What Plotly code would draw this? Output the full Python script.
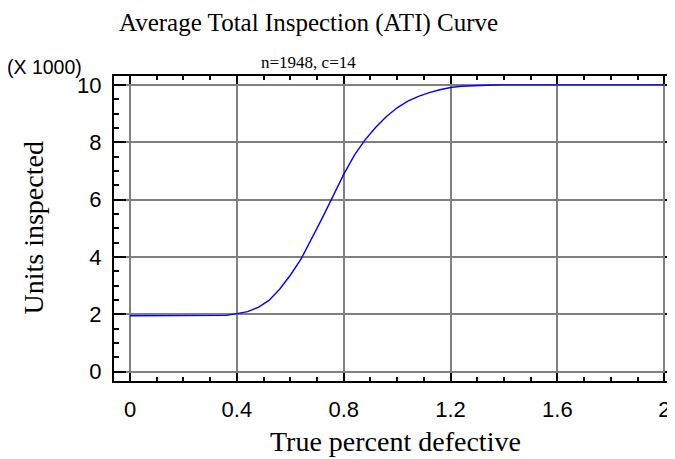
import plotly.graph_objects as go

# True percent defective
pct_defective = [0.00, 0.04, 0.08, 0.12, 0.16, 0.20, 0.24, 0.28, 0.32, 0.36,
                 0.40, 0.44, 0.48, 0.52, 0.56, 0.60, 0.64, 0.68, 0.72, 0.76,
                 0.80, 0.84, 0.88, 0.92, 0.96, 1.00, 1.04, 1.08, 1.12, 1.16,
                 1.20, 1.24, 1.28, 1.32, 1.36, 1.40, 1.44, 1.48, 1.52, 1.56,
                 1.60, 1.64, 1.68, 1.72, 1.76, 1.80, 1.84, 1.88, 1.92, 1.96, 2.00]
# Units inspected (X 1000)
units_inspected = [1.948, 1.948, 1.948, 1.948, 1.948, 1.948, 1.948, 1.949, 1.951, 1.96,
                   2.02, 2.09, 2.24, 2.48, 2.87, 3.36, 3.92, 4.62, 5.36, 6.12,
                   6.88, 7.55, 8.08, 8.52, 8.90, 9.20, 9.43, 9.60, 9.73, 9.83,
                   9.91, 9.95, 9.97, 9.99, 9.995, 10.0, 10.0, 10.0, 10.0, 10.0,
                   10.0, 10.0, 10.0, 10.0, 10.0, 10.0, 10.0, 10.0, 10.0, 10.0, 10.0]

x_ticks = [0, 0.4, 0.8, 1.2, 1.6, 2.0]
x_tick_labels = ["0", "0.4", "0.8", "1.2", "1.6", "2"]
y_ticks = [0, 2, 4, 6, 8, 10]
y_tick_labels = ["0", "2", "4", "6", "8", "10"]

title_text = "Average Total Inspection (ATI) Curve"
subtitle_text = "n=1948, c=14"
x_title = "True percent defective"
y_title = "Units inspected"
scale_text = "(X 1000)"

SANS = "Liberation Sans, Arial, sans-serif"
SERIF = "Liberation Serif, Times New Roman, serif"

fig = go.Figure()
fig.add_trace(go.Scatter(x=pct_defective, y=units_inspected, mode="lines",
                         line=dict(color="#0000FF", width=1.4),
                         showlegend=False, hoverinfo="skip"))
fig.add_trace(go.Scatter(x=pct_defective, y=units_inspected, mode="lines",
                         line=dict(color="rgba(0,0,0,0)", width=0),
                         yaxis="y2", showlegend=False, hoverinfo="skip"))

fig.update_layout(
    width=675, height=459,
    margin=dict(l=106, r=7, t=68, b=86),
    paper_bgcolor="white", plot_bgcolor="white",
    xaxis=dict(
        range=[-0.06, 2.044], tickvals=x_ticks, ticktext=x_tick_labels,
        showgrid=True, gridcolor="#808080", gridwidth=2, zeroline=False,
        showline=True, linecolor="black", linewidth=2, mirror="ticks",
        ticks="inside", ticklen=8, tickwidth=2, tickcolor="black",
        minor=dict(dtick=0.1, ticks="inside", ticklen=4, tickwidth=1.5,
                   tickcolor="black", showgrid=False),
        tickfont=dict(family=SANS, size=22, color="black"),
        ticklabelstandoff=8,
    ),
    yaxis=dict(
        range=[-0.33, 10.31], tickvals=y_ticks, ticktext=y_tick_labels,
        showgrid=True, gridcolor="#808080", gridwidth=2, zeroline=False,
        showline=True, linecolor="black", linewidth=2,
        ticks="inside", ticklen=12, tickwidth=2, tickcolor="black",
        minor=dict(dtick=0.5, ticks="inside", ticklen=5, tickwidth=1.5,
                   tickcolor="black", showgrid=False),
        tickfont=dict(family=SANS, size=22, color="black"),
        ticklabelstandoff=6,
    ),
    yaxis2=dict(
        matches="y", overlaying="y", side="right",
        showgrid=False, zeroline=False, showline=False, showticklabels=False,
        tickvals=y_ticks,
        ticks="inside", ticklen=11, tickwidth=2, tickcolor="black",
        minor=dict(dtick=0.5, ticks="inside", ticklen=3, tickwidth=1,
                   tickcolor="black", showgrid=False),
    ),
    annotations=[
        dict(text=title_text, xref="paper", yref="paper", x=0, y=1,
             xshift=194, yshift=53, showarrow=False, xanchor="center", yanchor="middle",
             font=dict(family=SERIF, size=25, color="black")),
        dict(text=subtitle_text, xref="paper", yref="paper", x=0, y=1,
             xshift=194, yshift=14, showarrow=False, xanchor="center", yanchor="middle",
             font=dict(family=SERIF, size=17, color="black")),
        dict(text=scale_text, xref="paper", yref="paper", x=0, y=1,
             xshift=-70, yshift=9, showarrow=False, xanchor="center", yanchor="middle",
             font=dict(family=SANS, size=19.5, color="black")),
        dict(text=x_title, xref="paper", yref="paper", x=0.5, y=0,
             yshift=-60, showarrow=False, xanchor="center", yanchor="middle",
             font=dict(family=SERIF, size=28, color="black")),
        dict(text=y_title, xref="paper", yref="paper", x=0, y=0.5,
             xshift=-81, showarrow=False, xanchor="center", yanchor="middle",
             textangle=-90, font=dict(family=SERIF, size=28, color="black")),
    ],
)

fig.write_html("out.html")
